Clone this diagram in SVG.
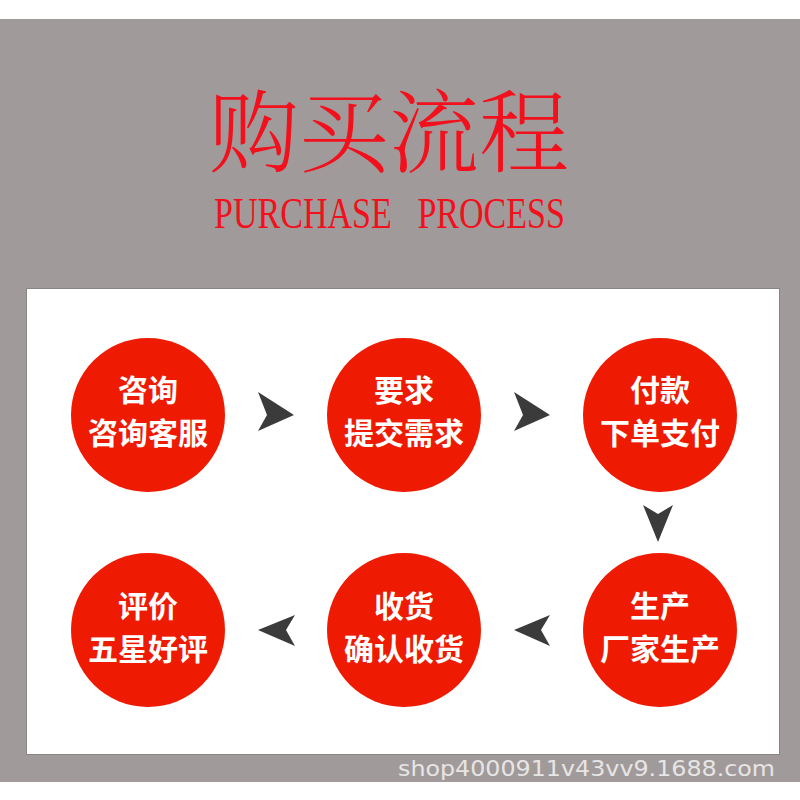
<svg xmlns="http://www.w3.org/2000/svg" width="800" height="800" viewBox="0 0 800 800">
<style>
.node circle{fill:#ee1a02}
.node text{fill:#fff;font-family:"Noto Sans CJK SC",sans-serif;font-weight:bold;font-size:30px;text-anchor:middle}
.arrow{fill:#3b3b3b}
.en{font-family:"Liberation Serif",serif;font-size:44px;fill:#f2101c}
</style>
<rect x="0" y="0" width="800" height="800" fill="#ffffff"/>
<rect x="0" y="19" width="800" height="763" fill="#a09a9a"/>
<text x="389" y="165" text-anchor="middle" font-family="Noto Serif CJK SC,Noto Sans CJK SC,serif" font-size="90" fill="#f2101c" font-weight="300">购买流程</text>
<text class="en" x="214" y="228" xml:space="preserve" textLength="351" lengthAdjust="spacingAndGlyphs">PURCHASE   PROCESS</text>
<rect x="26.5" y="288.5" width="753" height="466" fill="#ffffff" stroke="#8a8585" stroke-width="1"/>
<g id="connectors">
<path class="arrow" d="M258,392 L294,415 L258,431 L267,415 Z"/>
<path class="arrow" d="M514,392 L550,415 L514,431 L523,415 Z"/>
<path class="arrow" d="M643,505 L658,514 L673,505 L658,542 Z"/>
<path class="arrow" d="M550,615 L514,630 L550,646 L541,630 Z"/>
<path class="arrow" d="M295,615 L258,630 L295,646 L286,630 Z"/>
</g>
<g id="n1" class="node"><circle cx="148" cy="415" r="77"/><text x="148" y="401">咨询</text><text x="148" y="444">咨询客服</text></g>
<g id="n2" class="node"><circle cx="404" cy="415" r="77"/><text x="404" y="401">要求</text><text x="404" y="444">提交需求</text></g>
<g id="n3" class="node"><circle cx="660" cy="415" r="77"/><text x="660" y="401">付款</text><text x="660" y="444">下单支付</text></g>
<g id="n4" class="node"><circle cx="660" cy="630" r="77"/><text x="660" y="617">生产</text><text x="660" y="660">厂家生产</text></g>
<g id="n5" class="node"><circle cx="404" cy="630" r="77"/><text x="404" y="617">收货</text><text x="404" y="660">确认收货</text></g>
<g id="n6" class="node"><circle cx="148" cy="630" r="77"/><text x="148" y="617">评价</text><text x="148" y="660">五星好评</text></g>
<text x="398" y="776" font-family="DejaVu Sans,sans-serif" font-size="22" fill="#e8e5e5" textLength="377" lengthAdjust="spacingAndGlyphs">shop4000911v43vv9.1688.com</text>
</svg>
